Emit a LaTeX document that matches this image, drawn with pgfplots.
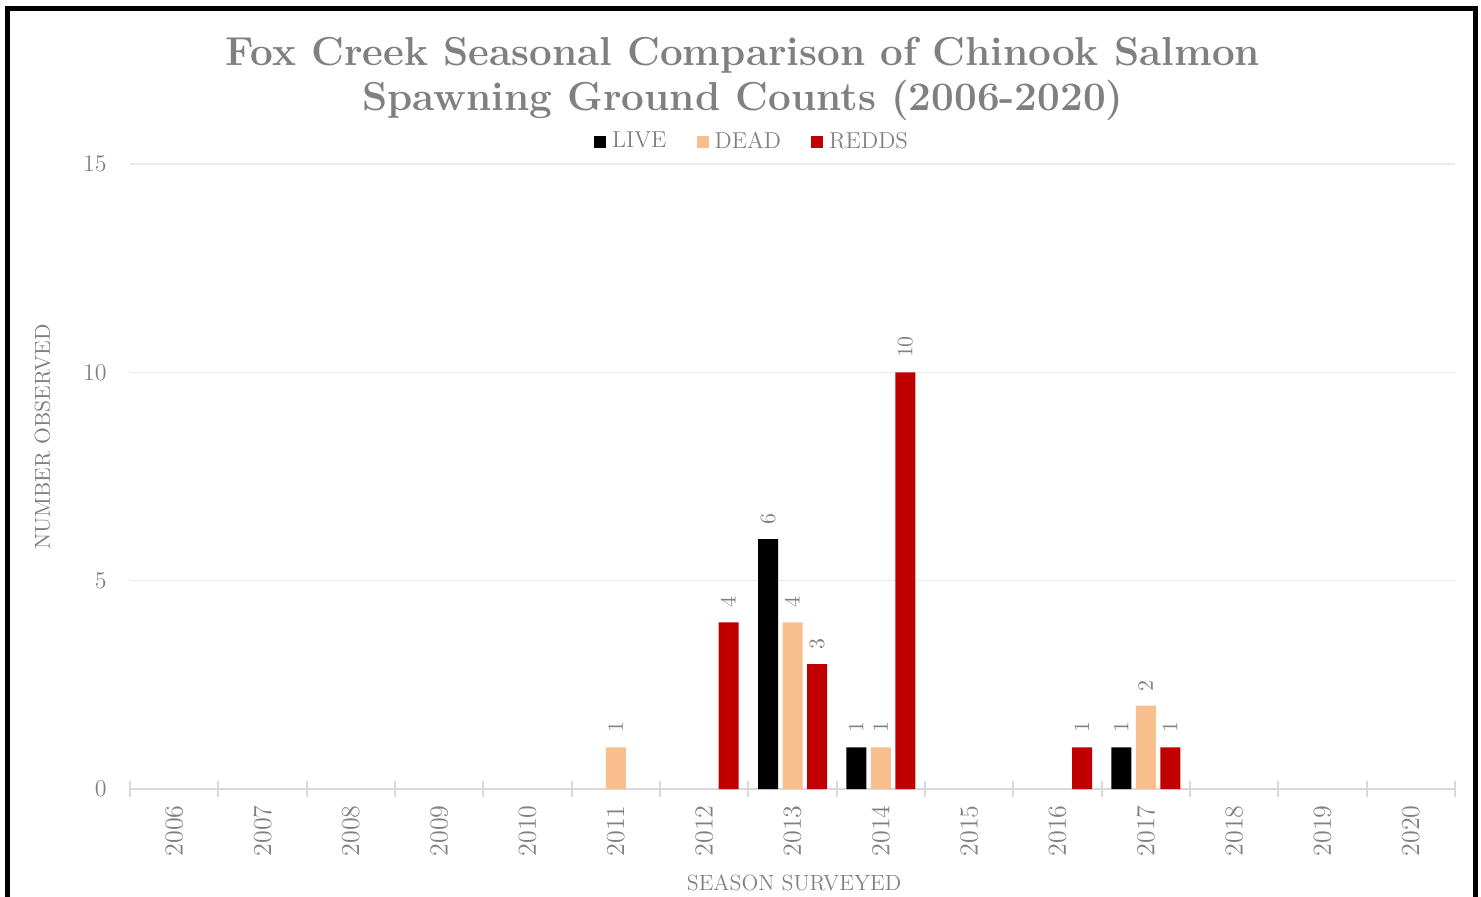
\documentclass[border=0pt]{standalone}
\usepackage{pgfplots}
\pgfplotsset{compat=1.18}
\definecolor{textgray}{RGB}{128,128,128}
\definecolor{gridgray}{RGB}{235,235,235}
\definecolor{axisgray}{RGB}{217,217,217}
\definecolor{livec}{RGB}{0,0,0}
\definecolor{deadc}{RGB}{248,190,142}
\definecolor{reddc}{RGB}{192,0,0}
\pgfplotsset{sqleg/.style={legend image code/.code={\fill[##1] (0pt,-3pt) rectangle (6pt,3pt);}}}
\begin{document}
\begin{tikzpicture}
\path[use as bounding box, clip] (0,0) rectangle (740.5pt,-448pt);
\draw[line width=2.3pt, line join=miter] (3.75pt,-470pt) -- (3.75pt,-4.25pt) -- (737.75pt,-4.25pt) -- (737.75pt,-470pt);
\node[align=center, text=textgray, font=\bfseries\fontsize{20.2}{22.5}\selectfont] at (371.5pt,-39.5pt)
  {Fox Creek Seasonal Comparison of Chinook Salmon\\Spawning Ground Counts (2006-2020)};
\node[rotate=90, text=textgray, font=\fontsize{10.8}{13}\selectfont] at (21.25pt,-218.5pt) {NUMBER OBSERVED};
\node[anchor=base, text=textgray, font=\fontsize{11}{13}\selectfont] at (397pt,-445pt) {SEASON SURVEYED};
\begin{axis}[
  at={(65pt,-394.5pt)}, anchor=south west,
  scale only axis, width=662.5pt, height=312.5pt,
  xmin=-0.5, xmax=14.5, ymin=0, ymax=15,
  clip=false,
  axis line style={draw=none},
  ybar=2.25pt, bar width=10pt,
  xtick={0,...,14},
  xticklabels={2006,2007,2008,2009,2010,2011,2012,2013,2014,2015,2016,2017,2018,2019,2020},
  minor xtick={-0.5,0.5,...,14.5},
  tick pos=left,
  tick align=center,
  major tick length=0pt,
  minor tick length=8pt,
  major tick style={draw=none},
  minor tick style={draw=axisgray, line width=1pt},
  xticklabel style={rotate=90, anchor=east, inner sep=0pt, text=textgray, font=\fontsize{13}{15}\selectfont},
  xticklabel shift=8pt,
  ytick={5,10,15},
  extra y ticks={0},
  extra y tick style={grid style={draw=axisgray, line width=1pt}},
  yticklabel style={anchor=east, inner sep=0pt, text=textgray, font=\fontsize{12}{14}\selectfont},
  yticklabel shift=11.5pt,
  ymajorgrids,
  grid style={draw=gridgray, line width=0.8pt},
  nodes near coords,
  every node near coord/.append style={rotate=90, anchor=west, inner xsep=7pt, inner ysep=0pt, text=textgray, font=\fontsize{11}{13}\selectfont},
  legend columns=-1,
  legend style={at={(0.471,1.036)}, anchor=center, draw=none, fill=none,
    font=\rmfamily\fontsize{11.5}{13}\selectfont, text=textgray,
    nodes={inner xsep=3pt, inner ysep=1pt},
    /tikz/every even column/.append style={column sep=12pt}},
]
\addplot[fill=livec, draw=none, sqleg] coordinates {(7,6) (8,1) (11,1)};
\addplot[fill=deadc, draw=none, sqleg] coordinates {(5,1) (7,4) (8,1) (11,2)};
\addplot[fill=reddc, draw=none, sqleg] coordinates {(6,4) (7,3) (8,10) (10,1) (11,1)};
\legend{LIVE,DEAD,REDDS}
\end{axis}
\end{tikzpicture}
\end{document}
